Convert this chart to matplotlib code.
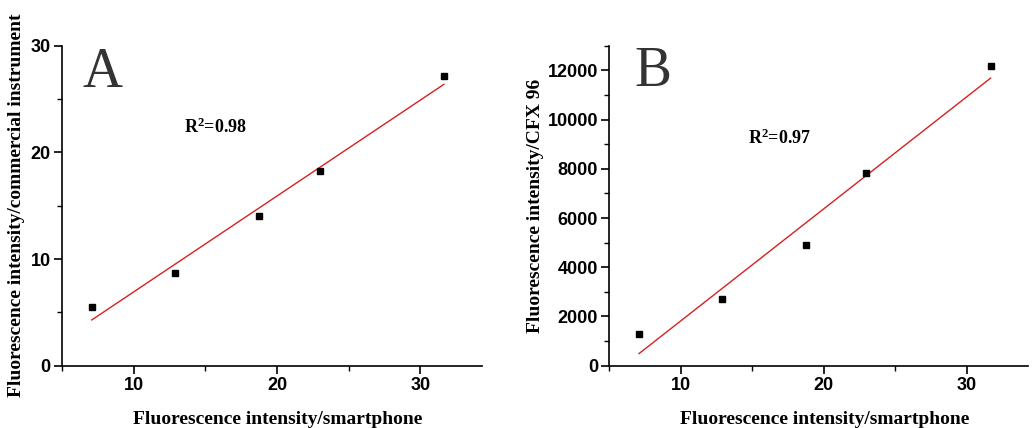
import numpy as np
import matplotlib
matplotlib.use("Agg")
from matplotlib import pyplot as plt
from matplotlib.ticker import MultipleLocator

# smartphone readings (shared by both panels)
smartphone = [7.08, 12.9, 18.78, 22.97, 31.65]
# panel A: commercial instrument
commercial = [5.47, 8.66, 14.03, 18.25, 27.18]
# panel B: CFX 96
cfx96 = [1286, 2694, 4897, 7830, 12170]

panels = [
    ("A", commercial, "Fluorescence intensity/commercial instrument", "R$^2$=0.98", 30, 10, 5),
    ("B", cfx96, "Fluorescence intensity/CFX 96", "R$^2$=0.97", 13000, 2000, 1000),
]

serif = "Liberation Serif"
sans = "Liberation Sans"
plt.rcParams["mathtext.fontset"] = "custom"
plt.rcParams["mathtext.rm"] = "Liberation Serif:bold"
plt.rcParams["mathtext.it"] = "Liberation Serif:bold"
plt.rcParams["mathtext.bf"] = "Liberation Serif:bold"

fig = plt.figure(figsize=(10.32, 4.28), dpi=100)
boxes = [[0.060, 0.1456, 0.407, 0.7474], [0.5904, 0.1456, 0.4062, 0.7474]]
letter_pos = [(0.05, 0.871), (0.059, 0.874)]
r2_pos = [(0.29, 0.727), (0.331, 0.693)]
ylab_x = [-0.088, -0.156]

for i, (name, yv, ylab, r2, ymax, ymaj, ymin) in enumerate(panels):
    ax = fig.add_axes(boxes[i])
    x = np.array(smartphone)
    y = np.array(yv)
    k, b = np.polyfit(x, y, 1)
    ax.plot(x, k * x + b, color="#d62020", lw=1.0, zorder=2)
    ax.plot(x, y, "s", color="black", ms=5, zorder=3)

    ax.set_xlim(5, 34.3)
    ax.set_ylim(0, ymax)
    ax.xaxis.set_major_locator(MultipleLocator(10))
    ax.xaxis.set_minor_locator(MultipleLocator(5))
    ax.yaxis.set_major_locator(MultipleLocator(ymaj))
    ax.yaxis.set_minor_locator(MultipleLocator(ymin))
    ax.spines["top"].set_visible(False)
    ax.spines["right"].set_visible(False)
    for s in ("left", "bottom"):
        ax.spines[s].set_linewidth(1.2)
    ax.tick_params(which="major", direction="out", length=6, width=1.2, labelsize=13, pad=2)
    ax.tick_params(which="minor", direction="out", length=3.5, width=1.0)
    for lab in ax.get_xticklabels() + ax.get_yticklabels():
        lab.set_fontfamily(sans)
        lab.set_fontweight("bold")

    ax.set_xlabel("Fluorescence intensity/smartphone", fontfamily=serif,
                  fontweight="bold", fontsize=14)
    ax.set_ylabel(ylab, fontfamily=serif, fontweight="bold", fontsize=14)
    ax.xaxis.set_label_coords(0.513, -0.1416)
    ax.yaxis.set_label_coords(ylab_x[i], 0.5)

    ax.text(letter_pos[i][0], letter_pos[i][1], name, transform=ax.transAxes,
            fontfamily=serif, fontsize=40, color="#333333", va="baseline")
    ax.text(r2_pos[i][0], r2_pos[i][1], r2, transform=ax.transAxes,
            fontfamily=serif, fontweight="bold", fontsize=13, va="baseline")

fig.savefig("out.png", dpi=100)
